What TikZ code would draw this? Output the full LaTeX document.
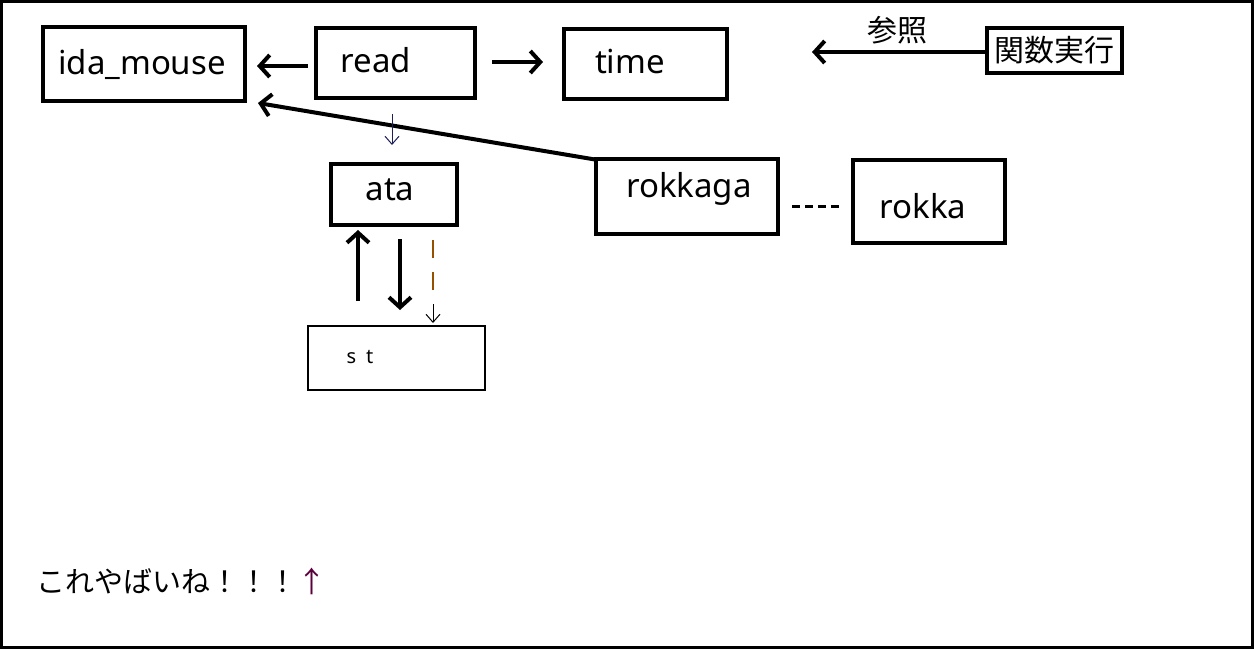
\documentclass[tikz,border=0pt]{standalone}
\usepackage{fontspec}
\setmainfont{Noto Sans}
\newfontfamily\jpfont{Noto Sans CJK JP}
\usetikzlibrary{arrows.meta}
\definecolor{brownish}{RGB}{150,80,0}
\definecolor{navyish}{RGB}{30,30,90}
\definecolor{purp}{RGB}{90,0,60}
\tikzset{
  lbl/.style={font=\fontsize{33}{35}\selectfont,anchor=center,inner sep=0pt},
  bigarrow/.style={line width=4pt,-{Straight Barb[length=10pt,width=22pt,line width=4pt]}},
  thinarrow/.style={line width=1pt,-{Straight Barb[length=8pt,width=14pt,line width=1pt]}}
}
\begin{document}
\begin{tikzpicture}[x=1pt,y=-1pt]
\useasboundingbox (0,0) rectangle (1254,649);
\draw[line width=3pt] (1.5,1.5) rectangle (1252.5,647.5);
% boxes
\draw[line width=4pt] (43,27) rectangle (245,101);
\draw[line width=4pt] (316,28) rectangle (475,98);
\draw[line width=4pt] (564,29) rectangle (727,99);
\draw[line width=4pt] (987,28) rectangle (1122,73);
\draw[line width=4pt] (331,164) rectangle (457,225);
\draw[line width=4pt] (596,159) rectangle (778,234);
\draw[line width=4pt] (853,160) rectangle (1005,243);
\draw[line width=2pt] (308,326) rectangle (485,390);
% labels
\node[lbl] (ida) at (142,64) {ida\_mouse};
\node[lbl] (read) at (376,60) {read};
\node[lbl] (time) at (630,61) {time};
\node[lbl] (ata) at (390,190) {ata};
\node[lbl] (rokkaga) at (689,189) {rokkaga};
\node[lbl] (rokka) at (923,206) {rokka};
\node[font=\fontsize{20}{22}\selectfont,inner sep=0pt] (st) at (360,357) {s\hspace{10pt}t};
\node[lbl,font=\jpfont\fontsize{30}{32}\selectfont] (func) at (1054,50) {関数実行};
\node[font=\jpfont\fontsize{30}{32}\selectfont,inner sep=0pt] (ref) at (897,30) {参照};
\node[font=\jpfont\fontsize{29}{30}\selectfont,inner sep=0pt,anchor=west] (note) at (36,581) {これやばいね！！！\textcolor{purp}{↑}};
% connector ends
\coordinate (readL) at (308,66); \coordinate (idaR) at (257,66);
\coordinate (readR) at (492,62); \coordinate (timeL) at (543,62);
\coordinate (funcL) at (987,52); \coordinate (refT) at (812,52);
\coordinate (rkL) at (598,160); \coordinate (idaB) at (258,103);
\coordinate (rdB) at (392,114); \coordinate (ataT) at (392,145);
\coordinate (stU1) at (358,301); \coordinate (ataB1) at (358,230);
\coordinate (ataB2) at (400,239); \coordinate (stU2) at (400,310);
\coordinate (ataB3) at (433,240); \coordinate (dashE) at (433,300);
\coordinate (stU3) at (433,304); \coordinate (stU4) at (433,323);
\coordinate (rkR) at (792,206); \coordinate (rL) at (843,206);
\draw[bigarrow] (readL) -- (idaR);
\draw[bigarrow] (readR) -- (timeL);
\draw[bigarrow] (funcL) -- (refT);
\draw[bigarrow] (rkL) -- (idaB);
\draw[thinarrow,navyish] (rdB) -- (ataT);
\draw[bigarrow] (stU1) -- (ataB1);
\draw[bigarrow] (ataB2) -- (stU2);
\draw[brownish,line width=1.5pt,dash pattern=on 18pt off 14pt] (ataB3) -- (dashE);
\draw[thinarrow] (stU3) -- (stU4);
\draw[line width=3pt,dash pattern=on 8pt off 5pt] (rkR) -- (rL);
\end{tikzpicture}
\end{document}
